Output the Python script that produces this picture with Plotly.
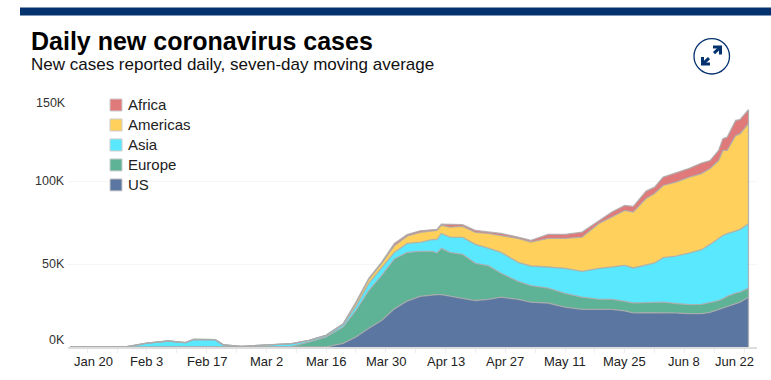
import plotly.graph_objects as go

dates = ["2020-01-16","2020-01-29","2020-02-03","2020-02-08","2020-02-12","2020-02-14","2020-02-19","2020-02-21","2020-02-25","2020-02-29",
         "2020-03-03","2020-03-08","2020-03-12","2020-03-16","2020-03-20","2020-03-23","2020-03-26","2020-03-29",
         "2020-04-01","2020-04-04","2020-04-07","2020-04-10","2020-04-11","2020-04-12","2020-04-14","2020-04-17","2020-04-20","2020-04-23","2020-04-26","2020-04-30",
         "2020-05-03","2020-05-07","2020-05-11","2020-05-15","2020-05-19","2020-05-22","2020-05-25","2020-05-27","2020-05-30",
         "2020-06-01","2020-06-03","2020-06-06","2020-06-09","2020-06-12","2020-06-14","2020-06-16","2020-06-17","2020-06-18","2020-06-20","2020-06-21","2020-06-23"]
us = [0,0,0,0,0,0,0,0,0,0,0,0,0,0,2.2,6,11.3,16,23,27.7,30.5,31.6,31.6,31.6,30.5,29.3,28,28.7,30,28.7,27,26.5,24,22.7,22.7,22.7,21.7,20.5,20.7,20.7,20.7,20.5,20.1,20.1,20.9,22.5,23.3,24.5,26.1,27,30]
europe = [0,0,0,0,0,0,0,0,0,0,0,.3,3,6,9.8,16,22.7,27,30,29.3,27.1,26,25,27.8,26.5,26.5,22.4,20.3,14.4,10.8,10,9,8.3,7.3,6,6,5.8,6,6,6.3,6.3,5.7,5.4,5.6,5.8,5.5,5.7,6,6.4,6,5.5]
asia = [0,0,2.4,3.6,2.6,4.6,4.4,1.2,.4,1,1.2,1.7,1,1,1.6,2.7,4.3,5,4,5.4,5.4,7.2,8.1,9,9.2,10.2,11.4,10.6,12.6,11.5,11.8,12.7,15.1,15.6,18.7,19.5,21.7,21.1,22.9,23.6,26.8,28.6,31.1,32.9,35.1,37.3,38.2,37.8,37.7,37.7,38.8]
americas = [0,0,0,0,0,0,0,0,0,0,0,0,0,0,.2,1.8,2.5,2.3,4,4.4,6,5.5,5.6,4.9,6,6.7,7.2,8.8,10.3,14.4,14.4,17.2,18,20.6,27.1,30.1,33.1,33.7,39.9,41.9,43.5,44.5,45.6,45.9,45.7,47,51.2,50.1,57.2,57.7,60.3]
africa = [0,0,0,0,0,0,0,0,0,0,0,0,0,0,.2,.5,.5,.7,1.3,.9,1,.6,.6,.7,1.5,1,1.2,.8,1.1,.8,1,2.4,2.4,3,1.8,3,3,3.4,4.4,3.8,5,5.7,5.3,6.3,4.8,6.1,7,8,9.1,8.6,8.3]

series_names = ["US","Europe","Asia","Americas","Africa"]
series_values = [us,europe,asia,americas,africa]
series_colors = ["#5b77a1","#5eb295","#5ae8ff","#ffd15c","#e07a7a"]
y_ticks = [0,50,100,150]
y_labels = ["0K","50K","100K","150K"]
x_tick_dates = ["2020-01-20","2020-02-03","2020-02-17","2020-03-02","2020-03-16","2020-03-30","2020-04-13","2020-04-27","2020-05-11","2020-05-25","2020-06-08","2020-06-22"]
x_tick_labels = ["Jan 20","Feb 3","Feb 17","Mar 2","Mar 16","Mar 30","Apr 13","Apr 27","May 11","May 25","Jun 8","Jun 22"]

W,H = 771,380
ML,MR,MT,MB = 68,14,97.5,33.3
PW,PH = W-ML-MR, H-MT-MB
FONT = "Liberation Sans, Arial, sans-serif"
NAVY = "#03326f"
def px(x): return (x-ML)/PW
def py(y): return 1-(y-MT)/PH

fig = go.Figure()
for n,v,c in zip(series_names,series_values,series_colors):
    fig.add_trace(go.Scatter(x=dates,y=v,name=n,stackgroup="one",mode="lines",
        line=dict(color="rgba(170,170,170,0.85)",width=1.3),fillcolor=c,hovertemplate="%{x|%b %d}: %{y}K"))

shapes = [dict(type="rect",xref="paper",yref="paper",x0=px(20),x1=px(771),y0=py(15),y1=py(7),fillcolor=NAVY,line_width=0),
          dict(type="circle",xref="paper",yref="paper",x0=px(694),x1=px(729.5),y0=py(73.5),y1=py(38),line=dict(color=NAVY,width=1.3)),
          dict(type="line",xref="x",yref="y",x0=dates[-1],x1=dates[-1],y0=0,y1=sum(s[-1] for s in series_values),line=dict(color="rgba(170,170,170,0.85)",width=1.3))]
ann = [dict(text="<b>Daily new coronavirus cases</b>",x=px(29),y=py(40.5),font=dict(size=25,color="#000"),xanchor="left",yanchor="middle"),
       dict(text="New cases reported daily, seven-day moving average",x=px(29),y=py(64),font=dict(size=17,color="#111"),xanchor="left",yanchor="middle")]
for seg in [[(702.5,63.5),(709,57.5)],[(702.5,56.5),(702.5,63.5),(710,63.5)],[(720.5,46.5),(714,52.5)],[(713,46.5),(720.5,46.5),(720.5,54)]]:
    path = "M "+" L ".join(f"{px(x)} {py(y)}" for x,y in seg)
    shapes.append(dict(type="path",xref="paper",yref="paper",path=path,line=dict(color=NAVY,width=3)))
# legend
for i,(n,c) in enumerate(zip(series_names[::-1],series_colors[::-1])):
    yc = 104.5+20*i
    shapes.append(dict(type="rect",xref="paper",yref="paper",x0=px(110),x1=px(122),y0=py(yc+6),y1=py(yc-6),fillcolor=c,line=dict(color="#cccccc",width=1)))
    ann.append(dict(text=n,x=px(126),y=py(yc),font=dict(size=15,color="#222"),xanchor="left",yanchor="middle"))
# y labels
for v,l,yc,xr in zip(y_ticks,y_labels,[339.5,264,180.7,102.7],[67,67,67,68]):
    ann.append(dict(text=l,x=px(xr),y=py(yc),font=dict(size=12.5,color="#333"),xanchor="right",yanchor="middle"))
# x labels
shift = {"Jan 20":6,"Jun 22":-10}
for d,l in zip(x_tick_dates,x_tick_labels):
    ann.append(dict(text=l,x=d,xref="x",y=py(361),font=dict(size=13,color="#222"),xanchor="center",yanchor="middle",xshift=shift.get(l,0)))
for a in ann:
    a.setdefault("xref","paper"); a["yref"]="paper"; a["showarrow"]=False; a["font"]["family"]=FONT

fig.update_layout(width=W,height=H,margin=dict(l=ML,r=MR,t=MT,b=MB,pad=0),paper_bgcolor="#fff",plot_bgcolor="#fff",
    showlegend=False,shapes=shapes,annotations=ann,font=dict(family=FONT),
    xaxis=dict(type="date",range=["2020-01-15 12:00","2020-06-25"],tick0="2020-01-20",dtick=7*86400000,ticks="outside",ticklen=4,tickcolor="#eeeeee",
        showticklabels=False,showgrid=False,zeroline=False,showline=True,linecolor="#dddddd",linewidth=2),
    yaxis=dict(range=[0,150],tickvals=y_ticks,showticklabels=False,showgrid=True,gridcolor="#f5f5f5",gridwidth=1,zeroline=False,showline=False))
fig.write_html("out.html",config=dict(displayModeBar=False),post_script="document.body.style.margin='0';")
